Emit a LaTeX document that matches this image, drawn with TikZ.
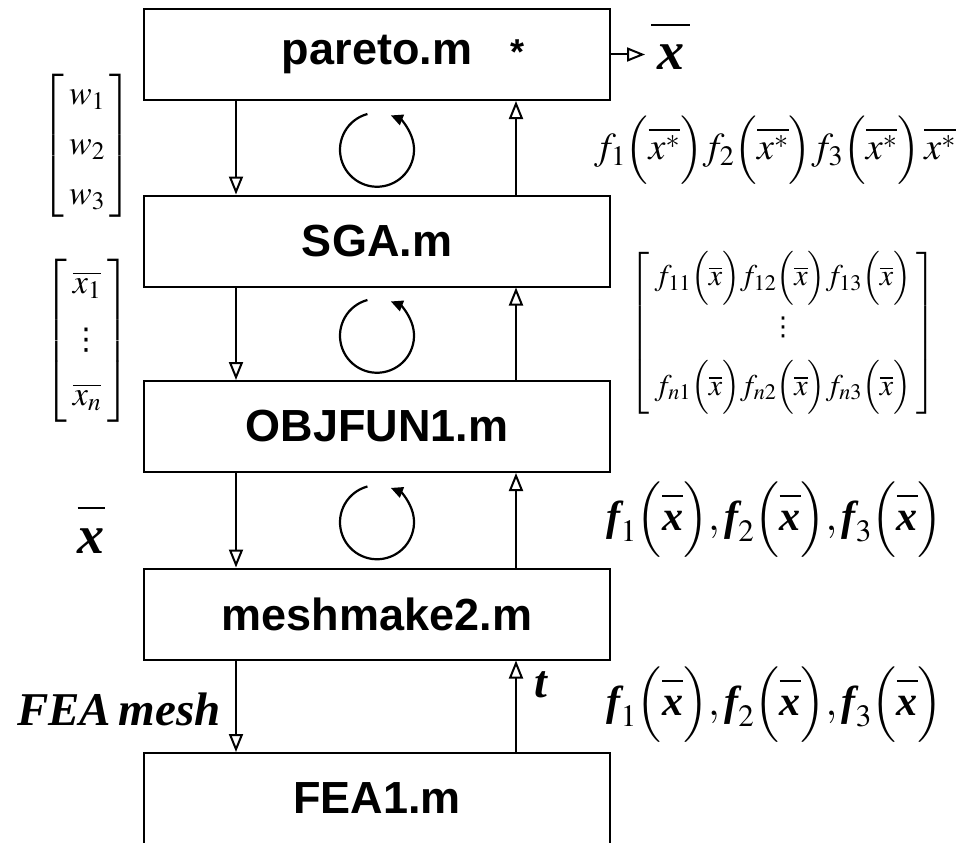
\documentclass[tikz,border=0pt]{standalone}
\usepackage{mathptmx}
\usepackage{fontspec}
\setmainfont{Liberation Serif}
\newfontfamily\boxfont{Liberation Sans}
\newfontfamily\symfont{DejaVu Sans}
\usetikzlibrary{arrows.meta,calc}

% bold italic symbols
\newcommand{\bx}{\overline{\vphantom{l}\mbox{\bfseries\itshape x}}}
\newcommand{\bfn}[1]{\mbox{\bfseries\itshape f}_{#1}}
\newcommand{\bfrow}{$\bfn{1}\Bigl(\bx\Bigr),\bfn{2}\Bigl(\bx\Bigr),\bfn{3}\Bigl(\bx\Bigr)$}
% vertical dots in one glyph
\newcommand{\vdts}[1]{\mbox{\symfont\fontsize{#1}{#1}\selectfont ⋮}}

\tikzset{
    module/.style    = {draw, line width=2pt, minimum width=466pt, minimum height=91pt,
                        inner sep=0pt, font=\boxfont\bfseries\fontsize{45}{50}\selectfont},
    flow/.style      = {line width=2pt, -{Triangle[open,length=18pt,width=14pt,line width=2pt]}},
    iterarrow/.style = {line width=2.2pt, -{Triangle[length=12pt,width=11pt]}},
    lbl/.style       = {inner sep=0pt, font=\fontsize{40}{48}\selectfont}
}

\begin{document}
\begin{tikzpicture}[x=1pt, y=1pt]
  \useasboundingbox (0,0) rectangle (961,-843);

  % the chain of m-files
  \node [module] (pareto)    at (377,-54.5) {pareto.m};
  \node [module] (SGA)       at (377,-241)  {SGA.m};
  \node [module] (OBJFUN1)   at (377,-426.5){OBJFUN1.m};
  \node [module] (meshmake2) at (377,-614)  {meshmake2.m};
  \node [module] (FEA1)      at (377,-798.5){FEA1.m};
  \node [anchor=base, inner sep=0pt, font=\boxfont\bfseries\fontsize{36}{40}\selectfont]
    (star) at (517,-64) {*};

  % calls go down on the left, results come back up on the right
  \foreach \a/\b in {pareto/SGA, SGA/OBJFUN1, OBJFUN1/meshmake2, meshmake2/FEA1}{
    \draw [flow] ([xshift=-141pt]\a.south) -- ([xshift=-141pt]\b.north);
    \draw [flow] ([xshift=139pt]\b.north) -- ([xshift=139pt]\a.south);
  }

  % iteration loops
  \foreach \a/\b in {pareto/SGA, SGA/OBJFUN1, OBJFUN1/meshmake2}{
    \coordinate (c) at ($(\a.south)!0.5!(\b.north)+(0,-2)$);
    \draw [iterarrow] (c) ++(105:37pt) arc [start angle=105, end angle=428, radius=37pt];
  }

  % optimum out of pareto.m
  \node [lbl, anchor=base west, inner xsep=6pt, font=\fontsize{54}{60}\selectfont]
    (xopt) at (645,-70) {$\overline{\vphantom{l}\,\mbox{\bfseries\itshape x}\,}$};
  \draw [flow] (pareto.east) -- (pareto.east -| xopt.west);

  % left side data
  \node [lbl, font=\fontsize{34}{40}\selectfont] (wvec) at (87,-146)
    {$\left[\begin{array}{c} w_1\\[10pt] w_2\\[10pt] w_3 \end{array}\right]$};
  \node [lbl, font=\fontsize{34}{40}\selectfont] (xvec) at (87,-341)
    {$\left[\begin{array}{c} \overline{x_1}\\[16pt] \vdts{30}\\[16pt] \overline{x_n} \end{array}\right]$};
  \node [lbl, anchor=base, font=\fontsize{54}{60}\selectfont] (xdes) at (91,-553) {$\bx$};
  \node [lbl, anchor=base east, font=\bfseries\itshape\fontsize{47}{50}\selectfont]
    (mesh) at (221,-725) {FEA\,mesh};

  % right side data
  \node [lbl, font=\fontsize{38}{46}\selectfont] (fstar) at (775,-150)
    {$f_1\Bigl(\overline{x^*}\Bigr) f_2\Bigl(\overline{x^*}\Bigr) f_3\Bigl(\overline{x^*}\Bigr)\, \overline{x^*}$};
  \node [lbl, font=\fontsize{30}{36}\selectfont] (fmat) at (783,-333)
    {$\left[\begin{array}{c}
        f_{11}\Bigl(\overline{x}\Bigr) f_{12}\Bigl(\overline{x}\Bigr) f_{13}\Bigl(\overline{x}\Bigr)\\[14pt]
        \vdts{26}\\[14pt]
        f_{n1}\Bigl(\overline{x}\Bigr) f_{n2}\Bigl(\overline{x}\Bigr) f_{n3}\Bigl(\overline{x}\Bigr)
      \end{array}\right]$};
  \node [lbl, font=\fontsize{42}{48}\selectfont] (fobj) at (775,-520) {\bfrow};
  \node [lbl, font=\fontsize{42}{48}\selectfont] (ffea) at (775,-705) {\bfrow};
  \node [lbl, anchor=base, font=\bfseries\itshape\fontsize{46}{50}\selectfont] (thk) at (541,-697) {t};
\end{tikzpicture}
\end{document}
